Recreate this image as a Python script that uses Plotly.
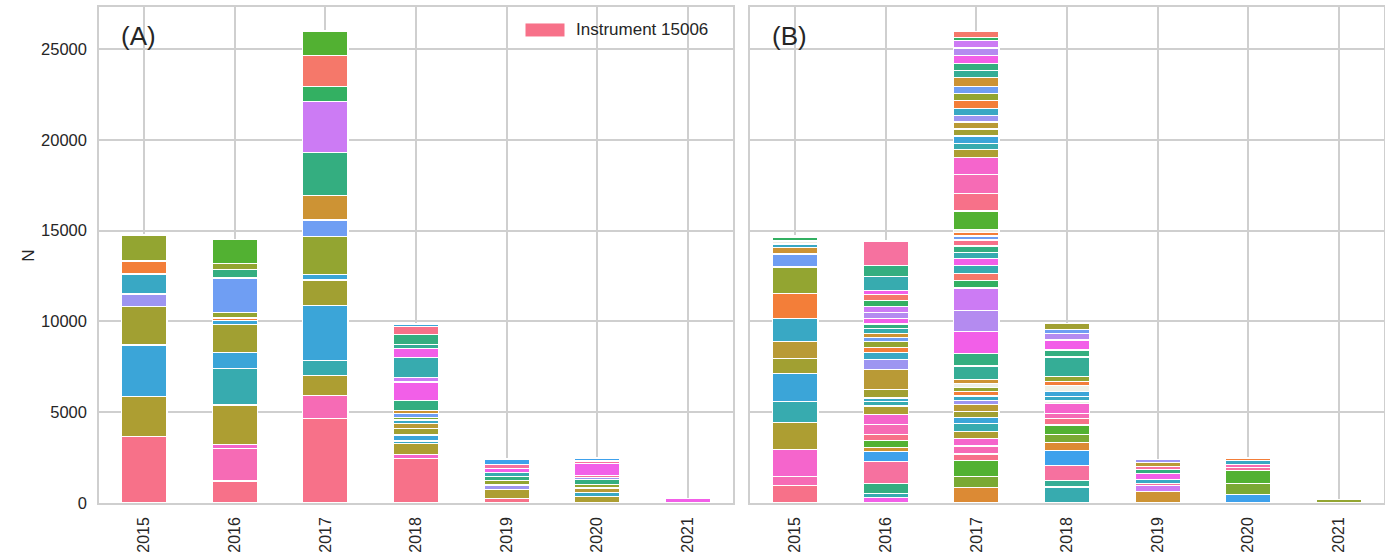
import plotly.graph_objects as go

# ---------------------------------------------------------------
# Data: per year, the stacked segment counts (bottom -> top)
# ---------------------------------------------------------------
YEARS = ["2015", "2016", "2017", "2018", "2019", "2020", "2021"]
Y_TICKS = [0, 5000, 10000, 15000, 20000, 25000]

# Panel (A)
a2015 = [3670, 2195, 2836, 2120, 690, 1100, 716, 1430]
a2016 = [1212, 1789, 221, 2175, 2010, 892, 1542, 209, 138, 303, 1900, 484, 325, 1322]
a2017 = [4642, 1267, 1101, 848, 3029, 1394, 319, 2087, 898, 1360, 2346, 2803, 832, 1734, 1333]
a2018 = [2451, 203, 623, 137, 331, 369, 264, 193, 148, 204, 171, 567, 1002, 232, 1101,
         512, 210, 561, 441, 138]
a2019 = [259, 484, 248, 232, 253, 215, 220, 226, 286]
a2020 = [374, 193, 259, 193, 275, 99, 138, 633, 149, 165]
a2021 = [230]

# Panel (B)
b2015 = [975, 501, 1487, 1481, 1157, 1547, 821, 914, 1288, 1355, 1471, 715, 375, 176, 165, 182, 94]
b2016 = [297, 243, 545, 1217, 545, 226, 352, 347, 534, 584, 452, 237, 203, 479, 1091, 562,
         374, 286, 320, 231, 226, 259, 248, 319, 325, 319, 331, 341, 226, 771, 589, 1349]
b2017 = [837, 639, 848, 374, 441, 413, 374, 441, 325, 347, 385, 221, 247, 237, 248, 204,
         237, 727, 688, 1223, 1161, 1223, 397, 385, 468, 375, 330, 358, 330, 221, 203, 171,
         1002, 981, 1019, 958, 418, 353, 402, 385, 386, 341, 413, 419, 385, 386, 495, 386,
         396, 452, 402, 402, 176, 320]
b2018 = [881, 358, 815, 826, 463, 440, 512, 342, 281, 556, 143, 248, 286, 303, 237, 264,
         1085, 386, 550, 358, 210, 352]
b2019 = [622, 353, 115, 221, 325, 225, 166, 214, 166]
b2020 = [479, 606, 721, 149, 160, 209, 154]
b2021 = [180]

# ---------------------------------------------------------------
# Styling: instrument palette and the colour of each segment
# ---------------------------------------------------------------
PALETTE = {
    "rose": "#f77189", "coral": "#f5786a", "orange": "#f37e39", "ochre": "#dc8a34",
    "amber": "#cd9334", "bronze": "#b99a36", "khaki": "#ad9e32", "olive": "#a1a032",
    "olivegreen": "#93a531", "yellowgreen": "#7aa934", "green": "#52b132",
    "jade": "#33b062", "seagreen": "#34ae80", "teagreen": "#35ad96", "teal": "#37abaf",
    "cyan": "#39a8c4", "blue": "#3ba5d8", "azure": "#3ea1ec", "cornflower": "#6f9ef3",
    "lavender": "#9d95f1", "lilac": "#b48bf0", "purple": "#cc7bf4", "magenta": "#f25fe8",
    "orchid": "#f565cc", "pink": "#f66bb5", "rosepink": "#f6719f", "pale": "#eef0e6",
}

ca2015 = ["rose", "khaki", "blue", "olive", "lavender", "cyan", "orange", "olivegreen"]
ca2016 = ["rose", "pink", "orchid", "khaki", "teal", "blue", "olive", "blue", "orange",
          "olivegreen", "cornflower", "seagreen", "olivegreen", "green"]
ca2017 = ["rose", "pink", "khaki", "teal", "blue", "olive", "blue", "olivegreen", "cornflower",
          "amber", "seagreen", "purple", "jade", "coral", "green"]
ca2018 = ["rose", "orchid", "khaki", "cyan", "blue", "olive", "bronze", "cyan", "yellowgreen",
          "cornflower", "amber", "seagreen", "magenta", "purple", "teal", "magenta", "teagreen",
          "seagreen", "rose", "blue"]
ca2019 = ["rose", "khaki", "lavender", "olivegreen", "seagreen", "teal", "magenta", "rosepink",
          "azure"]
ca2020 = ["khaki", "cyan", "bronze", "olivegreen", "seagreen", "lavender", "rosepink", "magenta",
          "rosepink", "azure"]
ca2021 = ["magenta"]

cb2015 = ["rose", "pink", "orchid", "khaki", "teal", "blue", "olive", "bronze", "cyan", "orange",
          "olivegreen", "cornflower", "amber", "cyan", "pale", "jade", "coral"]
cb2016 = ["magenta", "teal", "seagreen", "rosepink", "azure", "amber", "green", "rose", "pink",
          "orchid", "khaki", "teal", "cyan", "olive", "bronze", "lavender", "cyan", "orange",
          "olivegreen", "cornflower", "amber", "teal", "seagreen", "magenta", "lilac", "purple",
          "jade", "coral", "magenta", "teal", "seagreen", "rosepink"]
cb2017 = ["ochre", "yellowgreen", "green", "rose", "pink", "orchid", "khaki", "teal", "blue",
          "olive", "bronze", "lavender", "cyan", "orange", "olivegreen", "pale", "amber",
          "teagreen", "seagreen", "magenta", "lilac", "purple", "jade", "coral", "teal",
          "magenta", "teal", "seagreen", "rose", "cornflower", "orange", "pale", "green", "rose",
          "pink", "orchid", "khaki", "teal", "blue", "olive", "bronze", "lavender", "cyan",
          "orange", "olivegreen", "cornflower", "amber", "teagreen", "seagreen", "magenta",
          "lilac", "purple", "jade", "coral"]
cb2018 = ["teal", "teagreen", "rosepink", "azure", "ochre", "yellowgreen", "green", "rose",
          "pink", "orchid", "pale", "cyan", "blue", "pale", "orange", "olivegreen", "teagreen",
          "seagreen", "magenta", "lilac", "cornflower", "olive"]
cb2019 = ["amber", "purple", "rosepink", "cyan", "magenta", "seagreen", "rosepink", "bronze",
          "lavender"]
cb2020 = ["azure", "yellowgreen", "green", "rosepink", "pink", "cyan", "orange"]
cb2021 = ["olivegreen"]

panel_a = dict(zip(YEARS, [a2015, a2016, a2017, a2018, a2019, a2020, a2021]))
panel_a_colors = dict(zip(YEARS, [ca2015, ca2016, ca2017, ca2018, ca2019, ca2020, ca2021]))
panel_b = dict(zip(YEARS, [b2015, b2016, b2017, b2018, b2019, b2020, b2021]))
panel_b_colors = dict(zip(YEARS, [cb2015, cb2016, cb2017, cb2018, cb2019, cb2020, cb2021]))

W, H = 1385, 555
TEXT = "#262626"
GRID = "#cfcfcf"
FONT = "Liberation Sans, Arial, sans-serif"

# plot-area geometry in pixels
M_L, M_R, M_T, M_B = 99, 1, 7, 51.5
PW = W - M_L - M_R
PH = H - M_T - M_B
A_RIGHT = 733
B_LEFT = 750
YMAX = 27320


def px(x):
    """Pixel column -> paper x."""
    return (x - M_L) / PW


def py(y):
    """Pixel row -> paper y."""
    return (H - M_B - y) / PH


fig = go.Figure()


def add_stack(values, colors, xref, yref):
    """One trace per stacking level; Plotly stacks them in order."""
    depth = max(len(v) for v in values.values())
    for k in range(depth):
        xs, ys, cs = [], [], []
        for yr in YEARS:
            if k < len(values[yr]):
                xs.append(yr)
                ys.append(values[yr][k])
                cs.append(PALETTE[colors[yr][k]])
        fig.add_trace(go.Bar(
            x=xs, y=ys, width=0.5, xaxis=xref, yaxis=yref,
            marker=dict(color=cs, line=dict(color="white", width=1.2)),
            showlegend=False,
        ))


add_stack(panel_a, panel_a_colors, "x", "y")
add_stack(panel_b, panel_b_colors, "x2", "y2")

xaxis_common = dict(
    type="category", categoryorder="array", categoryarray=YEARS,
    range=[-0.5, 6.5], showgrid=True, gridcolor=GRID, gridwidth=1.5,
    showline=True, linecolor=GRID, linewidth=1.5, mirror=True,
    ticks="", tickangle=-90, ticklabelstandoff=6, automargin=False,
    tickfont=dict(family=FONT, size=16, color=TEXT), zeroline=False,
)
yaxis_common = dict(
    range=[0, YMAX], tickvals=Y_TICKS, tickformat="d", showgrid=True,
    gridcolor=GRID, gridwidth=1.5, showline=True, linecolor=GRID, linewidth=1.5,
    mirror=True, ticks="", zeroline=False, automargin=False, domain=[0, 1],
    tickfont=dict(family=FONT, size=16.5, color=TEXT),
)

fig.update_layout(
    width=W, height=H, margin=dict(l=M_L, r=M_R, t=M_T, b=M_B, pad=0),
    paper_bgcolor="white", plot_bgcolor="white",
    barmode="stack", showlegend=False,
    font=dict(family=FONT, color=TEXT),
    xaxis=dict(xaxis_common, domain=[0, px(A_RIGHT)], anchor="y"),
    xaxis2=dict(xaxis_common, domain=[px(B_LEFT), 1], anchor="y2"),
    yaxis=dict(yaxis_common, anchor="x", ticklabelstandoff=7),
    yaxis2=dict(yaxis_common, anchor="x2", matches="y", showticklabels=False),
)

# panel letters
for label, xpix in [("(A)", 138), ("(B)", 789)]:
    fig.add_annotation(x=px(xpix), y=py(36), xref="paper", yref="paper",
                       text=label, showarrow=False, xanchor="center", yanchor="middle",
                       font=dict(family=FONT, size=26, color=TEXT))

# y-axis title
fig.add_annotation(x=px(29), y=py(256), xref="paper", yref="paper", text="N",
                   textangle=-90, showarrow=False, xanchor="center", yanchor="middle",
                   font=dict(family=FONT, size=17, color=TEXT))

# legend entry for the first instrument
fig.add_shape(type="rect", xref="paper", yref="paper",
              x0=px(525), x1=px(565), y0=py(37), y1=py(23),
              fillcolor=PALETTE["rose"], line=dict(color="white", width=1))
fig.add_annotation(x=px(574), y=py(30), xref="paper", yref="paper",
                   text="Instrument 15006", showarrow=False, xanchor="left",
                   yanchor="middle", font=dict(family=FONT, size=17, color=TEXT))

fig.write_html("out.html")
